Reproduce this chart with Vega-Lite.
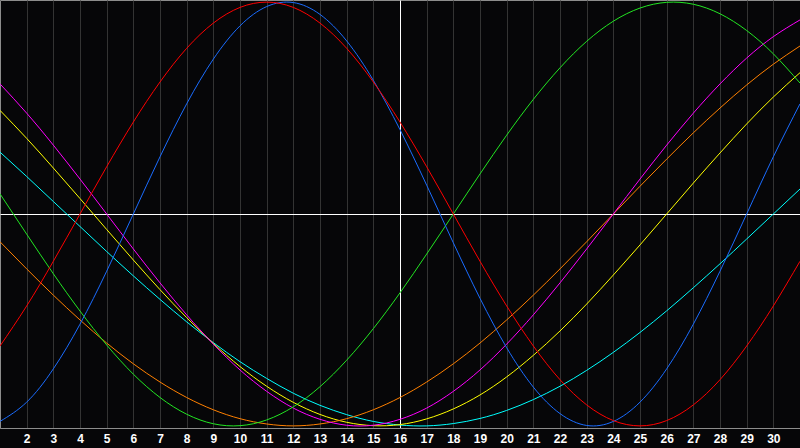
{
  "$schema": "https://vega.github.io/schema/vega-lite/v6.json",
  "width": 800,
  "height": 428,
  "autosize": {"type": "none"},
  "padding": {"left": 0, "top": 0, "right": 0, "bottom": 20},
  "background": "#060608",
  "config": {"view": {"stroke": "#8c8c8c", "strokeWidth": 1, "fill": "#060608"}},
  "data": {"values": [
    {"day":1,"cycle":"spiritual","value":29.2},{"day":2,"cycle":"spiritual","value":17.7},{"day":3,"cycle":"spiritual","value":5.9},{"day":4,"cycle":"spiritual","value":-5.9},{"day":5,"cycle":"spiritual","value":-17.7},{"day":6,"cycle":"spiritual","value":-29.2},{"day":7,"cycle":"spiritual","value":-40.3},{"day":8,"cycle":"spiritual","value":-50.9},{"day":9,"cycle":"spiritual","value":-60.7},{"day":10,"cycle":"spiritual","value":-69.7},{"day":11,"cycle":"spiritual","value":-77.6},{"day":12,"cycle":"spiritual","value":-84.6},{"day":13,"cycle":"spiritual","value":-90.3},{"day":14,"cycle":"spiritual","value":-94.7},{"day":15,"cycle":"spiritual","value":-97.9},{"day":16,"cycle":"spiritual","value":-99.6},{"day":17,"cycle":"spiritual","value":-100.0},{"day":18,"cycle":"spiritual","value":-98.9},{"day":19,"cycle":"spiritual","value":-96.5},{"day":20,"cycle":"spiritual","value":-92.7},{"day":21,"cycle":"spiritual","value":-87.6},{"day":22,"cycle":"spiritual","value":-81.3},{"day":23,"cycle":"spiritual","value":-73.8},{"day":24,"cycle":"spiritual","value":-65.3},{"day":25,"cycle":"spiritual","value":-55.9},{"day":26,"cycle":"spiritual","value":-45.7},{"day":27,"cycle":"spiritual","value":-34.8},{"day":28,"cycle":"spiritual","value":-23.5},{"day":29,"cycle":"spiritual","value":-11.8},{"day":30,"cycle":"spiritual","value":0},{"day":31,"cycle":"spiritual","value":11.8},
    {"day":1,"cycle":"aesthetic","value":48.9},{"day":2,"cycle":"aesthetic","value":35.7},{"day":3,"cycle":"aesthetic","value":21.7},{"day":4,"cycle":"aesthetic","value":7.3},{"day":5,"cycle":"aesthetic","value":-7.3},{"day":6,"cycle":"aesthetic","value":-21.7},{"day":7,"cycle":"aesthetic","value":-35.7},{"day":8,"cycle":"aesthetic","value":-48.9},{"day":9,"cycle":"aesthetic","value":-61.1},{"day":10,"cycle":"aesthetic","value":-72.0},{"day":11,"cycle":"aesthetic","value":-81.3},{"day":12,"cycle":"aesthetic","value":-88.9},{"day":13,"cycle":"aesthetic","value":-94.6},{"day":14,"cycle":"aesthetic","value":-98.3},{"day":15,"cycle":"aesthetic","value":-99.9},{"day":16,"cycle":"aesthetic","value":-99.4},{"day":17,"cycle":"aesthetic","value":-96.7},{"day":18,"cycle":"aesthetic","value":-92.0},{"day":19,"cycle":"aesthetic","value":-85.4},{"day":20,"cycle":"aesthetic","value":-76.9},{"day":21,"cycle":"aesthetic","value":-66.7},{"day":22,"cycle":"aesthetic","value":-55.2},{"day":23,"cycle":"aesthetic","value":-42.5},{"day":24,"cycle":"aesthetic","value":-28.8},{"day":25,"cycle":"aesthetic","value":-14.6},{"day":26,"cycle":"aesthetic","value":0},{"day":27,"cycle":"aesthetic","value":14.6},{"day":28,"cycle":"aesthetic","value":28.8},{"day":29,"cycle":"aesthetic","value":42.5},{"day":30,"cycle":"aesthetic","value":55.2},{"day":31,"cycle":"aesthetic","value":66.7},
    {"day":1,"cycle":"awareness","value":-13.1},{"day":2,"cycle":"awareness","value":-25.9},{"day":3,"cycle":"awareness","value":-38.3},{"day":4,"cycle":"awareness","value":-50},{"day":5,"cycle":"awareness","value":-60.9},{"day":6,"cycle":"awareness","value":-70.7},{"day":7,"cycle":"awareness","value":-79.3},{"day":8,"cycle":"awareness","value":-86.6},{"day":9,"cycle":"awareness","value":-92.4},{"day":10,"cycle":"awareness","value":-96.6},{"day":11,"cycle":"awareness","value":-99.1},{"day":12,"cycle":"awareness","value":-100},{"day":13,"cycle":"awareness","value":-99.1},{"day":14,"cycle":"awareness","value":-96.6},{"day":15,"cycle":"awareness","value":-92.4},{"day":16,"cycle":"awareness","value":-86.6},{"day":17,"cycle":"awareness","value":-79.3},{"day":18,"cycle":"awareness","value":-70.7},{"day":19,"cycle":"awareness","value":-60.9},{"day":20,"cycle":"awareness","value":-50},{"day":21,"cycle":"awareness","value":-38.3},{"day":22,"cycle":"awareness","value":-25.9},{"day":23,"cycle":"awareness","value":-13.1},{"day":24,"cycle":"awareness","value":0},{"day":25,"cycle":"awareness","value":13.1},{"day":26,"cycle":"awareness","value":25.9},{"day":27,"cycle":"awareness","value":38.3},{"day":28,"cycle":"awareness","value":50},{"day":29,"cycle":"awareness","value":60.9},{"day":30,"cycle":"awareness","value":70.7},{"day":31,"cycle":"awareness","value":79.3},
    {"day":1,"cycle":"intuitive","value":61.4},{"day":2,"cycle":"intuitive","value":47.6},{"day":3,"cycle":"intuitive","value":32.5},{"day":4,"cycle":"intuitive","value":16.5},{"day":5,"cycle":"intuitive","value":0},{"day":6,"cycle":"intuitive","value":-16.5},{"day":7,"cycle":"intuitive","value":-32.5},{"day":8,"cycle":"intuitive","value":-47.6},{"day":9,"cycle":"intuitive","value":-61.4},{"day":10,"cycle":"intuitive","value":-73.6},{"day":11,"cycle":"intuitive","value":-83.7},{"day":12,"cycle":"intuitive","value":-91.6},{"day":13,"cycle":"intuitive","value":-96.9},{"day":14,"cycle":"intuitive","value":-99.7},{"day":15,"cycle":"intuitive","value":-99.7},{"day":16,"cycle":"intuitive","value":-96.9},{"day":17,"cycle":"intuitive","value":-91.6},{"day":18,"cycle":"intuitive","value":-83.7},{"day":19,"cycle":"intuitive","value":-73.6},{"day":20,"cycle":"intuitive","value":-61.4},{"day":21,"cycle":"intuitive","value":-47.6},{"day":22,"cycle":"intuitive","value":-32.5},{"day":23,"cycle":"intuitive","value":-16.5},{"day":24,"cycle":"intuitive","value":0},{"day":25,"cycle":"intuitive","value":16.5},{"day":26,"cycle":"intuitive","value":32.5},{"day":27,"cycle":"intuitive","value":47.6},{"day":28,"cycle":"intuitive","value":61.4},{"day":29,"cycle":"intuitive","value":73.6},{"day":30,"cycle":"intuitive","value":83.7},{"day":31,"cycle":"intuitive","value":91.6},
    {"day":1,"cycle":"intellectual","value":9.5},{"day":2,"cycle":"intellectual","value":-9.5},{"day":3,"cycle":"intellectual","value":-28.2},{"day":4,"cycle":"intellectual","value":-45.8},{"day":5,"cycle":"intellectual","value":-61.8},{"day":6,"cycle":"intellectual","value":-75.6},{"day":7,"cycle":"intellectual","value":-86.6},{"day":8,"cycle":"intellectual","value":-94.5},{"day":9,"cycle":"intellectual","value":-99.0},{"day":10,"cycle":"intellectual","value":-99.9},{"day":11,"cycle":"intellectual","value":-97.2},{"day":12,"cycle":"intellectual","value":-91.0},{"day":13,"cycle":"intellectual","value":-81.5},{"day":14,"cycle":"intellectual","value":-69.0},{"day":15,"cycle":"intellectual","value":-54.1},{"day":16,"cycle":"intellectual","value":-37.2},{"day":17,"cycle":"intellectual","value":-18.9},{"day":18,"cycle":"intellectual","value":0},{"day":19,"cycle":"intellectual","value":18.9},{"day":20,"cycle":"intellectual","value":37.2},{"day":21,"cycle":"intellectual","value":54.1},{"day":22,"cycle":"intellectual","value":69.0},{"day":23,"cycle":"intellectual","value":81.5},{"day":24,"cycle":"intellectual","value":91.0},{"day":25,"cycle":"intellectual","value":97.2},{"day":26,"cycle":"intellectual","value":99.9},{"day":27,"cycle":"intellectual","value":99.0},{"day":28,"cycle":"intellectual","value":94.5},{"day":29,"cycle":"intellectual","value":86.6},{"day":30,"cycle":"intellectual","value":75.6},{"day":31,"cycle":"intellectual","value":61.8},
    {"day":1,"cycle":"physical","value":-97.9},{"day":2,"cycle":"physical","value":-88.8},{"day":3,"cycle":"physical","value":-73.1},{"day":4,"cycle":"physical","value":-52.0},{"day":5,"cycle":"physical","value":-27.0},{"day":6,"cycle":"physical","value":0},{"day":7,"cycle":"physical","value":27.0},{"day":8,"cycle":"physical","value":52.0},{"day":9,"cycle":"physical","value":73.1},{"day":10,"cycle":"physical","value":88.8},{"day":11,"cycle":"physical","value":97.9},{"day":12,"cycle":"physical","value":99.8},{"day":13,"cycle":"physical","value":94.2},{"day":14,"cycle":"physical","value":81.7},{"day":15,"cycle":"physical","value":63.1},{"day":16,"cycle":"physical","value":39.8},{"day":17,"cycle":"physical","value":13.6},{"day":18,"cycle":"physical","value":-13.6},{"day":19,"cycle":"physical","value":-39.8},{"day":20,"cycle":"physical","value":-63.1},{"day":21,"cycle":"physical","value":-81.7},{"day":22,"cycle":"physical","value":-94.2},{"day":23,"cycle":"physical","value":-99.8},{"day":24,"cycle":"physical","value":-97.9},{"day":25,"cycle":"physical","value":-88.8},{"day":26,"cycle":"physical","value":-73.1},{"day":27,"cycle":"physical","value":-52.0},{"day":28,"cycle":"physical","value":-27.0},{"day":29,"cycle":"physical","value":0},{"day":30,"cycle":"physical","value":27.0},{"day":31,"cycle":"physical","value":52.0},
    {"day":1,"cycle":"emotional","value":-62.3},{"day":2,"cycle":"emotional","value":-43.4},{"day":3,"cycle":"emotional","value":-22.3},{"day":4,"cycle":"emotional","value":0},{"day":5,"cycle":"emotional","value":22.3},{"day":6,"cycle":"emotional","value":43.4},{"day":7,"cycle":"emotional","value":62.3},{"day":8,"cycle":"emotional","value":78.2},{"day":9,"cycle":"emotional","value":90.1},{"day":10,"cycle":"emotional","value":97.5},{"day":11,"cycle":"emotional","value":100},{"day":12,"cycle":"emotional","value":97.5},{"day":13,"cycle":"emotional","value":90.1},{"day":14,"cycle":"emotional","value":78.2},{"day":15,"cycle":"emotional","value":62.3},{"day":16,"cycle":"emotional","value":43.4},{"day":17,"cycle":"emotional","value":22.3},{"day":18,"cycle":"emotional","value":0},{"day":19,"cycle":"emotional","value":-22.3},{"day":20,"cycle":"emotional","value":-43.4},{"day":21,"cycle":"emotional","value":-62.3},{"day":22,"cycle":"emotional","value":-78.2},{"day":23,"cycle":"emotional","value":-90.1},{"day":24,"cycle":"emotional","value":-97.5},{"day":25,"cycle":"emotional","value":-100},{"day":26,"cycle":"emotional","value":-97.5},{"day":27,"cycle":"emotional","value":-90.1},{"day":28,"cycle":"emotional","value":-78.2},{"day":29,"cycle":"emotional","value":-62.3},{"day":30,"cycle":"emotional","value":-43.4},{"day":31,"cycle":"emotional","value":-22.3}
  ]},
  "mark": {"type": "line", "interpolate": "natural", "strokeWidth": 1, "clip": true},
  "encoding": {
    "x": {
      "field": "day", "type": "quantitative",
      "scale": {"domain": [1, 31], "nice": false, "zero": false},
      "axis": {
        "values": [2,3,4,5,6,7,8,9,10,11,12,13,14,15,16,17,18,19,20,21,22,23,24,25,26,27,28,29,30],
        "grid": true,
        "gridColor": {"condition": {"test": "datum.value === 16", "value": "#ffffff"}, "value": "#333333"},
        "gridWidth": 1,
        "ticks": false,
        "tickSize": 0,
        "labelPadding": 5,
        "labelColor": "#ffffff",
        "labelFont": "Liberation Sans",
        "labelFontWeight": "bold",
        "labelFontSize": 12,
        "labelFlush": false,
        "labelOverlap": false,
        "domainColor": "#8c8c8c",
        "title": null
      }
    },
    "y": {
      "field": "value", "type": "quantitative",
      "scale": {"domain": [-101, 101], "nice": false, "zero": false},
      "axis": {"values": [0], "grid": true, "gridColor": "#ffffff", "gridWidth": 1, "labels": false, "ticks": false, "domain": false, "title": null}
    },
    "color": {
      "field": "cycle", "type": "nominal",
      "scale": {
        "domain": ["physical", "emotional", "intellectual", "intuitive", "aesthetic", "awareness", "spiritual"],
        "range": ["#1a6cff", "#ff0000", "#22e622", "#ff00ff", "#ffff00", "#ff8000", "#00ffff"]
      },
      "legend": null
    },
    "order": {"field": "cycle", "sort": "ascending"}
  }
}
